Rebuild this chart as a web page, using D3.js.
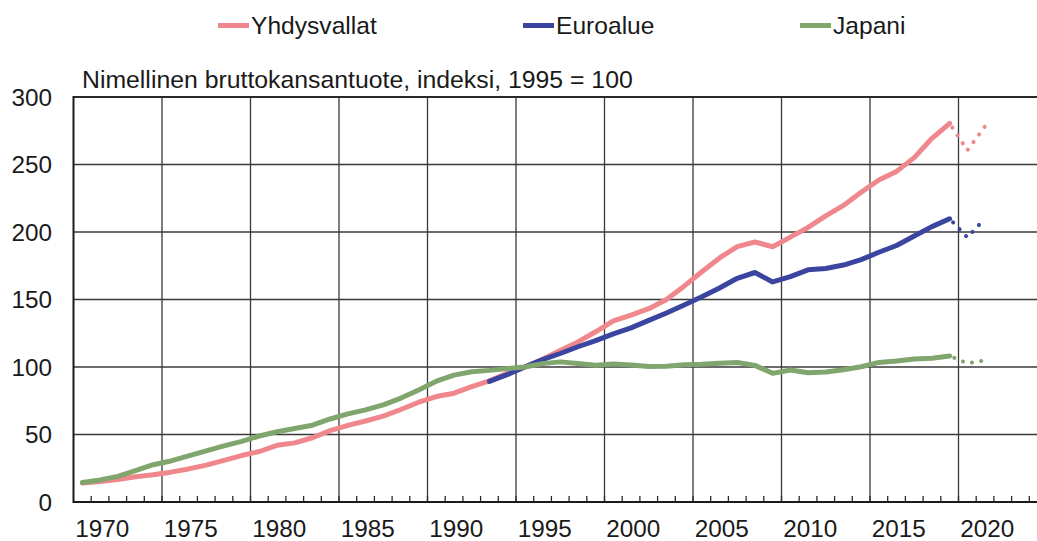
<!DOCTYPE html>
<html>
<head>
<meta charset="utf-8">
<script src="https://cdn.jsdelivr.net/npm/d3@7"></script>
<style>
  html, body { margin: 0; padding: 0; background: #fff; }
  svg { display: block; }
  text { font-family: "Liberation Sans", Arial, sans-serif; fill: #1a1a1a; }
</style>
</head>
<body>
<svg id="chart" width="1037" height="541"></svg>
<script>
// ---- Data (index, 1995 = 100) ----
const years = [1970,1971,1972,1973,1974,1975,1976,1977,1978,1979,
               1980,1981,1982,1983,1984,1985,1986,1987,1988,1989,
               1990,1991,1992,1993,1994,1995,1996,1997,1998,1999,
               2000,2001,2002,2003,2004,2005,2006,2007,2008,2009,
               2010,2011,2012,2013,2014,2015,2016,2017,2018,2019];
const usValues = [14.1,15.2,16.7,18.7,20.2,22.1,24.5,27.3,30.8,34.4,
                  37.4,42.0,43.8,47.6,52.9,56.8,60.0,63.6,68.5,73.9,
                  78.1,80.6,85.4,89.8,95.4,100,105.7,112.3,118.6,126.1,
                  134.2,138.5,143.2,150.0,159.9,170.6,180.8,189.2,192.6,189.1,
                  196.2,203.4,212.0,219.7,229.4,238.5,244.9,255.1,269.4,280.5];
const euroYears = [1993,1994,1995,1996,1997,1998,1999,
                   2000,2001,2002,2003,2004,2005,2006,2007,2008,2009,
                   2010,2011,2012,2013,2014,2015,2016,2017,2018,2019];
const euroValues = [89.3,94.3,100,105.5,110,115,119.5,
                    124.5,129,134.5,140,146,152,158.5,165.7,170,163,
                    167,172,173,175.5,179.5,185,190,197,204,209.8];
const jpValues = [14.5,16.3,19.0,23.3,27.6,30.4,34.1,37.9,41.6,44.9,
                  48.9,52.0,54.5,56.9,61.5,65.3,68.2,72.0,77.0,83.0,
                  89.5,94.0,96.5,97.5,98.8,100,102.5,103.8,102.6,101.3,
                  102.2,101.5,100.4,100.5,101.6,102.0,102.8,103.4,101.2,95.3,
                  97.8,95.7,96.3,98.0,100.2,103.4,104.5,106.0,106.5,108.2];
const forecastYears = [2019, 2020, 2021];
const usForecast = [280.5, 260.5, 278.3];
const euroForecast = [209.8, 196, 210];
const jpForecast = [108.2, 102.7, 105];

const seriesNames = ["Yhdysvallat", "Euroalue", "Japani"];
const seriesColors = ["#f0878d", "#3b45a0", "#80a66e"];
const yTicks = [0, 50, 100, 150, 200, 250, 300];
const xLabelYears = [1970,1975,1980,1985,1990,1995,2000,2005,2010,2015,2020];
const titleText = "Nimellinen bruttokansantuote, indeksi, 1995 = 100";

(function () {
  const svg = d3.select("#chart");
  const plotLeft = 73.5, plotTop = 97, plotBottom = 502, pxPerYear = 17.7;
  const plotRight = 1037;
  const x = d3.scaleLinear().domain([1969.5, 2024.5]).range([plotLeft, plotLeft + 55 * pxPerYear]);
  const y = d3.scaleLinear().domain([0, 300]).range([plotBottom, plotTop]);
  const gridColor = "#3a3a3a";

  // horizontal gridlines
  svg.append("g").selectAll("line").data(yTicks.filter(d => d > 0 && d < 300)).join("line")
    .attr("x1", plotLeft).attr("x2", plotRight)
    .attr("y1", d => y(d)).attr("y2", d => y(d))
    .attr("stroke", gridColor).attr("stroke-width", 1.3);

  // vertical gridlines (between categories, every 5 years)
  const gridYears = d3.range(1974.5, 2020, 5);
  svg.append("g").selectAll("line").data(gridYears).join("line")
    .attr("x1", d => x(d)).attr("x2", d => x(d))
    .attr("y1", plotTop).attr("y2", plotBottom)
    .attr("stroke", gridColor).attr("stroke-width", 1.3);

  // top border
  svg.append("line").attr("x1", plotLeft).attr("x2", plotRight).attr("y1", plotTop).attr("y2", plotTop)
    .attr("stroke", "#2a2a2a").attr("stroke-width", 2);

  // minor year ticks on the x axis (pointing up)
  const tickYears = d3.range(1970.5, 2024, 1);
  svg.append("g").selectAll("line").data(tickYears).join("line")
    .attr("x1", d => x(d)).attr("x2", d => x(d))
    .attr("y1", plotBottom).attr("y2", plotBottom - 6)
    .attr("stroke", "#2a2a2a").attr("stroke-width", 1.3);

  // axes
  svg.append("line").attr("x1", plotLeft).attr("x2", plotRight).attr("y1", plotBottom).attr("y2", plotBottom)
    .attr("stroke", "#1a1a1a").attr("stroke-width", 2);
  svg.append("line").attr("x1", plotLeft).attr("x2", plotLeft).attr("y1", plotTop - 1).attr("y2", plotBottom + 1)
    .attr("stroke", "#1a1a1a").attr("stroke-width", 2);

  // y labels
  svg.append("g").selectAll("text").data(yTicks).join("text")
    .attr("x", 52).attr("y", d => y(d)).attr("dy", "0.36em")
    .attr("text-anchor", "end").attr("font-size", 24.3)
    .text(d => d);

  // x labels
  svg.append("g").selectAll("text").data(xLabelYears).join("text")
    .attr("x", d => x(d) + 20).attr("y", 537)
    .attr("text-anchor", "middle").attr("font-size", 24.3)
    .text(d => d);

  // title
  svg.append("text").attr("x", 82).attr("y", 87.5).attr("font-size", 24.8).text(titleText);

  // lines
  const line = d3.line().x(d => x(d[0])).y(d => y(d[1]));
  const solid = [
    d3.zip(years, usValues),
    d3.zip(euroYears, euroValues),
    d3.zip(years, jpValues)
  ];
  const dotted = [
    d3.zip(forecastYears, usForecast),
    d3.zip(forecastYears, euroForecast),
    d3.zip(forecastYears, jpForecast)
  ];
  solid.forEach((s, i) => {
    svg.append("path").attr("d", line(s)).attr("fill", "none")
      .attr("stroke", seriesColors[i]).attr("stroke-width", 5)
      .attr("stroke-linejoin", "round").attr("stroke-linecap", "round");
  });
  dotted.forEach((s, i) => {
    svg.append("path").attr("d", line(s)).attr("fill", "none")
      .attr("stroke", seriesColors[i]).attr("stroke-width", 4)
      .attr("stroke-dasharray", "0.1 9.3").attr("stroke-dashoffset", -5)
      .attr("stroke-linecap", "round");
  });

  // legend
  const legendX = [218, 523, 800];
  const lg = svg.append("g");
  seriesNames.forEach((name, i) => {
    lg.append("line").attr("x1", legendX[i]).attr("x2", legendX[i] + 31)
      .attr("y1", 25.5).attr("y2", 25.5)
      .attr("stroke", seriesColors[i]).attr("stroke-width", 5);
    lg.append("text").attr("x", legendX[i] + 33).attr("y", 33.5)
      .attr("font-size", 24.6).text(name);
  });
})();
</script>
</body>
</html>
